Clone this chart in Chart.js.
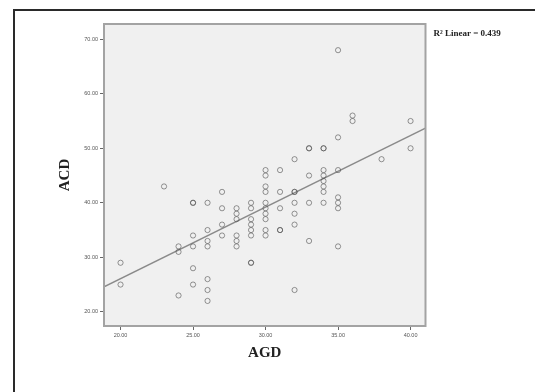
<!DOCTYPE html>
<html>
<head>
<meta charset="utf-8">
<script src="https://cdn.jsdelivr.net/npm/chart.js@4.4.1/dist/chart.umd.min.js"></script>
<style>
html,body{margin:0;padding:0;background:#fff;}
canvas{display:block;}
</style>
</head>
<body>
<canvas id="c" width="535" height="392"></canvas>
<script>
const agd = [
  20,20,
  23,
  24,24,24,
  25,25,25,25,25,25,
  26,26,26,26,26,26,26,
  27,27,27,27,
  28,28,28,28,28,28,
  29,29,29,29,29,29,29,29,
  30,30,30,30,30,30,30,30,30,30,
  31,31,31,31,31,
  32,32,32,32,32,32,32,
  33,33,33,33,33,
  34,34,34,34,34,34,34,34,
  35,35,35,35,35,35,35,
  36,36,
  38,
  40,40
];
const acd = [
  29,25,
  43,
  32,31,23,
  40,40,34,32,28,25,
  40,35,33,32,26,24,22,
  42,39,36,34,
  39,38,37,34,33,32,
  40,39,37,36,35,34,29,29,
  46,45,43,42,40,39,38,37,35,34,
  46,42,39,35,35,
  48,42,42,40,38,36,24,
  50,50,45,40,33,
  50,50,46,45,44,43,42,40,
  68,52,46,41,40,39,32,
  56,55,
  48,
  55,50
];
// Linear fit line endpoints
const fitX = [18.86, 41.03];
const fitY = [24.6, 53.7];
const xTickValues = [20, 25, 30, 35, 40];
const yTickValues = [20, 30, 40, 50, 60, 70];
const xRange = [18.86, 41.03];
const yRange = [17.4, 72.8];
const rSquaredLabel = 'R² Linear = 0.439';

const scatterPts = agd.map((x, i) => ({x: x, y: acd[i]}));
const fitPts = fitX.map((x, i) => ({x: x, y: fitY[i]}));

const framePlugin = {
  id: 'frame',
  beforeDraw(chart) {
    const {ctx, chartArea: a} = chart;
    ctx.save();
    ctx.fillStyle = '#ffffff';
    ctx.fillRect(0, 0, chart.width, chart.height);
    ctx.fillStyle = '#f0f0f0';
    ctx.fillRect(a.left, a.top, a.right - a.left, a.bottom - a.top);
    // outer frame (left and top edges only visible)
    ctx.strokeStyle = '#2a2a2a';
    ctx.lineWidth = 2;
    ctx.beginPath();
    ctx.moveTo(14, chart.height);
    ctx.lineTo(14, 10);
    ctx.lineTo(chart.width, 10);
    ctx.stroke();
    ctx.restore();
  },
  afterDraw(chart) {
    const {ctx, chartArea: a} = chart;
    ctx.save();
    ctx.strokeStyle = '#a3a3a3';
    ctx.lineWidth = 2;
    ctx.strokeRect(a.left, a.top, a.right - a.left, a.bottom - a.top);
    ctx.fillStyle = '#222';
    ctx.font = 'bold 9px "Liberation Serif", serif';
    ctx.textBaseline = 'middle';
    ctx.textAlign = 'left';
    ctx.fillText(rSquaredLabel, a.right + 8, 34);
    ctx.restore();
  }
};

new Chart(document.getElementById('c'), {
  type: 'scatter',
  data: {
    datasets: [
      {
        label: 'Fit',
        type: 'line',
        data: fitPts,
        borderColor: '#8a8a8a',
        borderWidth: 1.5,
        pointRadius: 0,
        fill: false,
        order: 2
      },
      {
        label: 'ACD',
        data: scatterPts,
        pointStyle: 'circle',
        pointRadius: 2.6,
        borderWidth: 1,
        borderColor: 'rgba(80,80,80,0.6)',
        backgroundColor: 'rgba(0,0,0,0)',
        order: 1
      }
    ]
  },
  options: {
    responsive: false,
    animation: false,
    devicePixelRatio: 1,
    layout: {padding: {left: 0, top: 24, right: 109.5, bottom: 0}},
    plugins: {legend: {display: false}, tooltip: {enabled: false}},
    scales: {
      x: {
        type: 'linear',
        min: xRange[0], max: xRange[1],
        afterBuildTicks(s) { s.ticks = xTickValues.map(v => ({value: v})); },
        afterFit(s) { s.height = 66; },
        grid: {drawOnChartArea: false, drawTicks: true, tickLength: 4, color: '#666', lineWidth: 1},
        border: {display: false},
        ticks: {
          callback: v => Number(v).toFixed(2),
          font: {family: '"Liberation Sans", Arial, sans-serif', size: 5.5},
          color: '#555',
          padding: 2,
          maxRotation: 0,
          autoSkip: false
        },
        title: {
          display: true,
          text: 'AGD',
          font: {family: '"Liberation Serif", serif', size: 15, weight: 'bold'},
          color: '#222',
          padding: {top: 0, bottom: 30}
        }
      },
      y: {
        type: 'linear',
        min: yRange[0], max: yRange[1],
        afterBuildTicks(s) { s.ticks = yTickValues.map(v => ({value: v})); },
        afterFit(s) { s.width = 104; },
        grid: {drawOnChartArea: false, drawTicks: true, tickLength: 4, color: '#666', lineWidth: 1},
        border: {display: false},
        ticks: {
          callback: v => Number(v).toFixed(2),
          font: {family: '"Liberation Sans", Arial, sans-serif', size: 5.5},
          color: '#555',
          padding: 2,
          autoSkip: false
        },
        title: {
          display: true,
          text: 'ACD',
          font: {family: '"Liberation Serif", serif', size: 15, weight: 'bold'},
          color: '#222',
          padding: {top: 56, bottom: 0}
        }
      }
    }
  },
  plugins: [framePlugin]
});
</script>
</body>
</html>
